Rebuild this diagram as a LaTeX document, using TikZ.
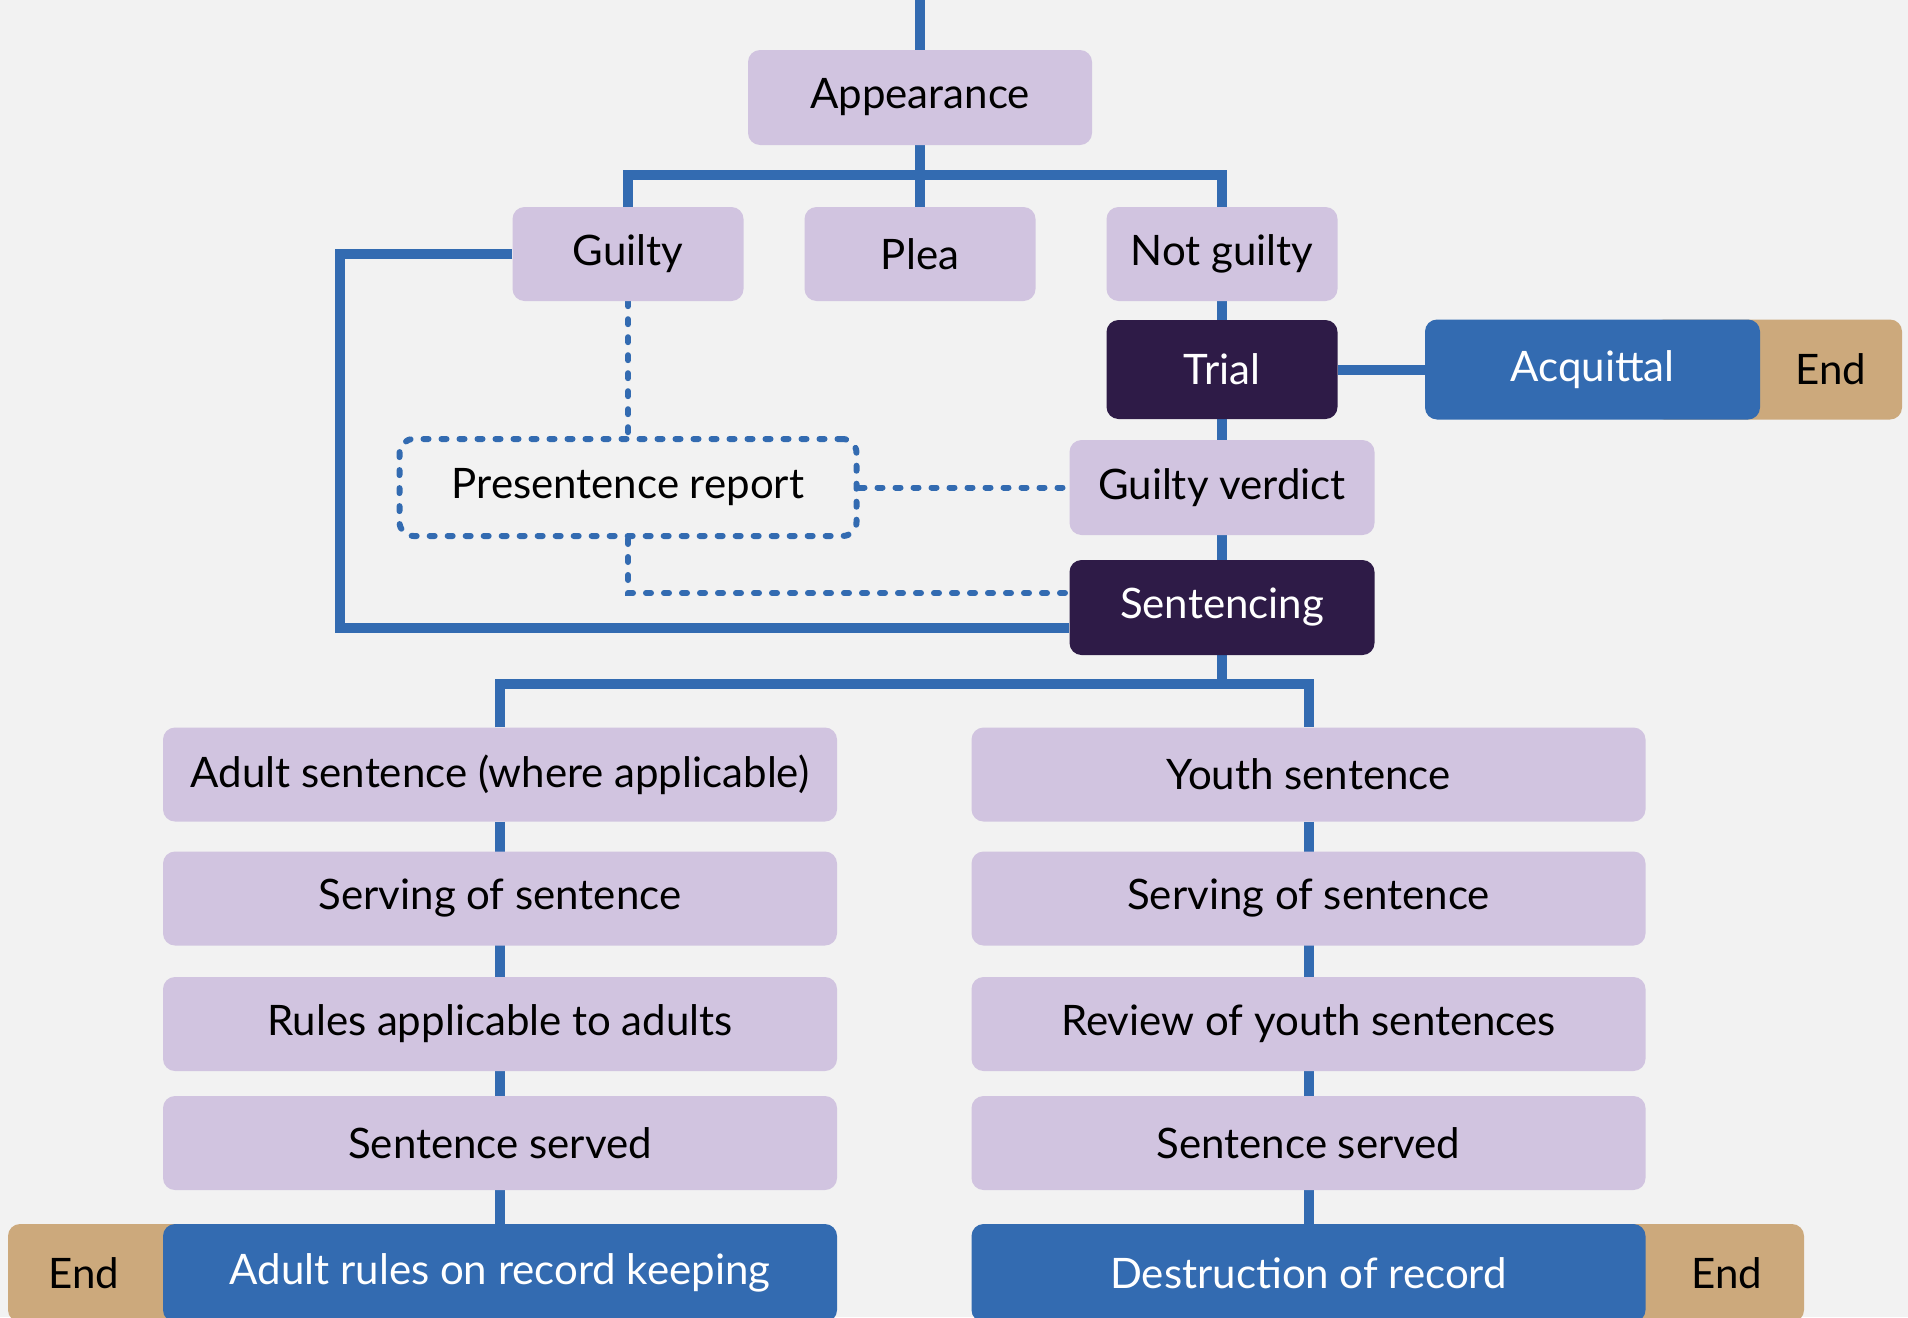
\documentclass[tikz,border=0pt]{standalone}
\usepackage{fontspec}
\setmainfont{Lato}
\usetikzlibrary{backgrounds}
\definecolor{bg}{HTML}{F2F2F2}
\definecolor{lav}{HTML}{D1C4E0}
\definecolor{blu}{HTML}{336BB1}
\definecolor{dkp}{HTML}{2E1B47}
\definecolor{endtan}{HTML}{CCA97C}
\begin{document}
\begin{tikzpicture}[x=1pt,y=-1pt,
  box/.style={rectangle, rounded corners=12pt, inner sep=0pt, font=\fontsize{42}{50}\selectfont},
  lbox/.style={box, fill=lav, text=black},
  dbox/.style={box, fill=dkp, text=white},
  bluebox/.style={box, fill=blu, text=white},
  endbox/.style={box, fill=endtan, text=black},
  colbox/.style={minimum width=674pt, minimum height=94pt},
  conn/.style={draw=blu, line width=10pt},
  dconn/.style={draw=blu, line width=6pt, dash pattern=on 5pt off 13pt, line cap=round},
]
\path[use as bounding box] (0,0) rectangle (1908,1317);

\node[lbox, minimum width=344pt, minimum height=95pt] (app) at (920,97.5) {Appearance};
\node[lbox, minimum width=231pt, minimum height=94pt] (guilty) at (628,254) {Guilty};
\node[lbox, minimum width=231pt, minimum height=94pt] (plea) at (920,254) {Plea};
\node[lbox, minimum width=231pt, minimum height=94pt] (notg) at (1222,254) {Not guilty};
\node[dbox, minimum width=231pt, minimum height=99pt] (trial) at (1222,369.5) {Trial};
\node[endbox, minimum width=250pt, minimum height=100pt] (end1) at (1777,369.5) {\hspace*{108pt}End};
\node[bluebox, minimum width=335pt, minimum height=100pt] (acq) at (1592.5,369.5) {Acquittal};
\node[lbox, minimum width=305pt, minimum height=95pt] (verdict) at (1222,487.5) {Guilty verdict};
\node[box, dconn, rounded corners=14pt, minimum width=457pt, minimum height=97pt, text=black] (psr) at (628,487.5) {Presentence report};
\node[dbox, minimum width=305pt, minimum height=95pt] (sent) at (1222,607.5) {Sentencing};

\node[lbox, colbox] (l1) at (500,774.5) {Adult sentence (where applicable)};
\node[lbox, colbox] (l2) at (500,898.5) {Serving of sentence};
\node[lbox, colbox] (l3) at (500,1024) {Rules applicable to adults};
\node[lbox, colbox] (l4) at (500,1143) {Sentence served};
\node[endbox, minimum width=292pt, minimum height=98pt] (end2) at (154,1273) {End\hspace*{140pt}};
\node[bluebox, colbox, minimum height=98pt] (l5) at (500,1273) {Adult rules on record keeping};

\node[lbox, colbox] (r1) at (1308.5,774.5) {Youth sentence};
\node[lbox, colbox] (r2) at (1308.5,898.5) {Serving of sentence};
\node[lbox, colbox] (r3) at (1308.5,1024) {Review of youth sentences};
\node[lbox, colbox] (r4) at (1308.5,1143) {Sentence served};
\node[endbox, minimum width=304pt, minimum height=98pt] (end3) at (1652,1273) {\hspace*{150pt}End};
\node[bluebox, colbox, minimum height=98pt] (r5) at (1308.5,1273) {Destruction of record};

\begin{pgfonlayer}{background}
\fill[bg] (0,0) rectangle (1908,1317);
\coordinate (top) at (920,0);
\coordinate (bar) at (920,175);
\coordinate (gl) at (340,400);
\coordinate (sbar) at (1222,684);
\draw[conn] (top) -- (app);
\draw[conn] (guilty.north) |- (bar) -| (notg.north);
\draw[conn] (app) -- (plea);
\draw[conn] (guilty.west) -| (gl) |- ([yshift=-20.5pt]sent.west);
\draw[conn] (notg) -- (sent);
\draw[conn] (trial) -- (acq);
\draw[dconn] (guilty.south) -- (psr.north);
\draw[dconn] (psr.east) -- (verdict.west);
\draw[dconn] (psr.south) |- ([yshift=14.5pt]sent.west);
\draw[conn] (sent) -- (sbar);
\draw[conn] (l1.north) |- (sbar) -| (r1.north);
\draw[conn] (l1) -- (l5);
\draw[conn] (r1) -- (r5);
\end{pgfonlayer}
\end{tikzpicture}
\end{document}
